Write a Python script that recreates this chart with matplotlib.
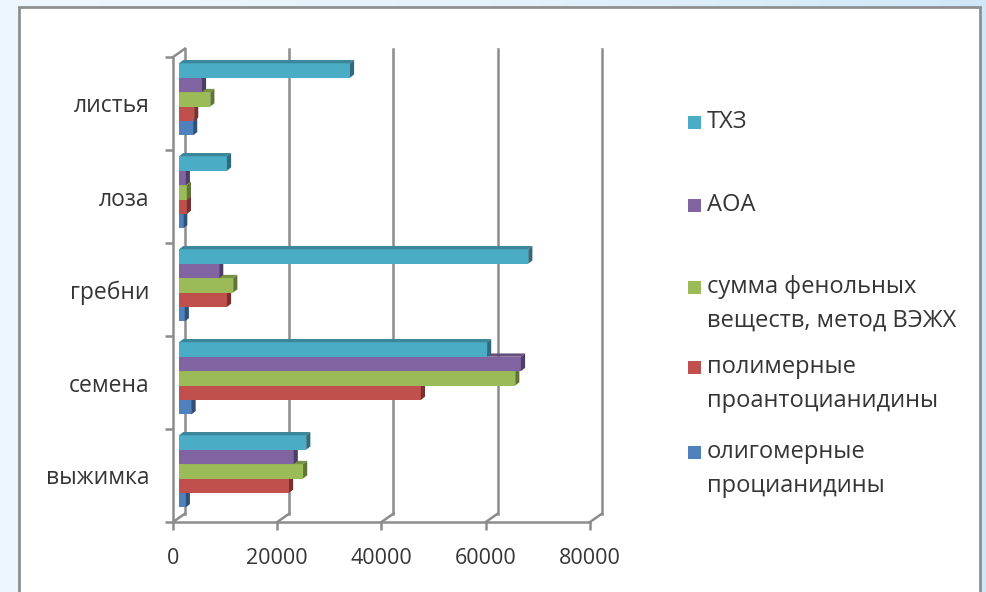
import matplotlib

matplotlib.use("Agg")
import matplotlib.pyplot as plt
import numpy as np
from matplotlib.colors import to_rgb
from matplotlib.patches import Polygon, Rectangle

plt.rcParams["font.family"] = ["Open Sans", "DejaVu Sans"]

categories = ["выжимка", "семена", "гребни", "лоза", "листья"]

# series listed bottom-to-top inside each category group
series_labels = [
    "олигомерные\nпроцианидины",
    "полимерные\nпроантоцианидины",
    "сумма фенольных\nвеществ, метод ВЭЖХ",
    "АОА",
    "ТХЗ",
]
series_colors = ["#4F81BD", "#C0504D", "#9BBB59", "#8064A2", "#4BACC6"]

oligomeric = [1300, 2400, 1100, 800, 2700]
polymeric = [21100, 46400, 9200, 1500, 2900]
phenolic_sum = [23800, 64500, 10400, 1500, 6000]
aoa = [22000, 65600, 7700, 1300, 4400]
txz = [24400, 59100, 67000, 9200, 32800]
series_values = [oligomeric, polymeric, phenolic_sum, aoa, txz]

xticks = [0, 20000, 40000, 60000, 80000]

TEXT = "#353535"
GRID = "#8c8c8c"

# depth of the 3-d box in data units (value axis / category axis)
DX, DY = 2300, 0.09
# depth of each bar
BDX, BDY = 800, 0.035
BAR_H = 0.155


def shade(color, k):
    r, g, b = to_rgb(color)
    return (r * k, g * k, b * k)


fig = plt.figure(figsize=(9.87, 5.92), dpi=100)

# slide background and white chart frame
bg = fig.add_axes([0, 0, 1, 1], zorder=-10)
grad = np.linspace(0, 1, 256)[None, :]
bg.imshow(grad, aspect="auto", extent=[0, 1, 0, 1],
          cmap=matplotlib.colors.LinearSegmentedColormap.from_list(
              "bg", ["#eef7fd", "#e4f2fc", "#cfe7f8"]))
bg.add_patch(Rectangle((19 / 987, -0.05), (980 - 19) / 987, 1 - 7 / 592 + 0.05,
                       facecolor="white", edgecolor="#8f8f8f", lw=2))
bg.set_xlim(0, 1)
bg.set_ylim(0, 1)
bg.axis("off")

ax = fig.add_axes([173 / 987, 1 - 522 / 592, 417 / 987, 465 / 592])
ax.set_xlim(0, 80000)
ax.set_ylim(-0.5, len(categories) - 0.5)
ax.patch.set_alpha(0)
ytop = len(categories) - 0.5

# back wall gridlines, floor diagonals and left wall
for x in xticks:
    ax.plot([x + DX, x + DX], [-0.5 + DY, ytop + DY], color=GRID, lw=1.8,
            clip_on=False, zorder=1)
    ax.plot([x, x + DX], [-0.5, -0.5 + DY], color=GRID, lw=1.8,
            clip_on=False, zorder=1)
ax.plot([0, DX], [ytop, ytop + DY], color=GRID, lw=1.8, clip_on=False, zorder=1)

# 3-d bars, drawn from the bottom series upward so upper bars cover lower tops
n = len(series_values)
for j, (vals, col) in enumerate(zip(series_values, series_colors)):
    for i, v in enumerate(vals):
        y0 = i + (j - n / 2) * BAR_H + DY / 2
        y1 = y0 + BAR_H
        x0 = DX / 2
        x1 = x0 + v
        ax.barh(y0, v, left=x0, height=BAR_H, align="edge", color=col,
                lw=0, zorder=3 + j)
        ax.add_patch(Polygon([(x0, y1), (x1, y1), (x1 + BDX, y1 + BDY),
                              (x0 + BDX, y1 + BDY)], closed=True,
                             facecolor=shade(col, 0.78), lw=0, zorder=3 + j,
                             clip_on=False))
        ax.add_patch(Polygon([(x1, y0), (x1, y1), (x1 + BDX, y1 + BDY),
                              (x1 + BDX, y0 + BDY)], closed=True,
                             facecolor=shade(col, 0.62), lw=0, zorder=3 + j,
                             clip_on=False))

for side in ("top", "right"):
    ax.spines[side].set_visible(False)
for side in ("left", "bottom"):
    ax.spines[side].set_color(GRID)
    ax.spines[side].set_linewidth(1.8)

ax.set_xticks(xticks)
ax.set_xticklabels([str(t) for t in xticks])
ax.set_yticks(np.arange(len(categories) + 1) - 0.5, minor=True)
ax.set_yticks(np.arange(len(categories)))
ax.set_yticklabels(categories)
ax.tick_params(axis="y", which="major", length=0, pad=17, labelsize=16.5,
               labelcolor=TEXT)
ax.tick_params(axis="y", which="minor", length=6, width=1.8, color=GRID)
ax.tick_params(axis="x", length=6, width=1.8, color=GRID, pad=13,
               labelsize=15.5, labelcolor=TEXT)

# legend entries, one text line at a time
legend_y = [122, 205, 287, 367, 452]
line_step = 34
for k, j in enumerate(range(n - 1, -1, -1)):
    yy = 1 - legend_y[k] / 592
    fig.patches.append(Rectangle((688 / 987, yy - 6.5 / 592), 13 / 987, 13 / 592,
                                 transform=fig.transFigure,
                                 facecolor=series_colors[j], lw=0))
    for m, line in enumerate(series_labels[j].split("\n")):
        fig.text(707 / 987, yy - m * line_step / 592, line, ha="left",
                 va="center", fontsize=17, color=TEXT)

fig.savefig("out.png", dpi=100)
